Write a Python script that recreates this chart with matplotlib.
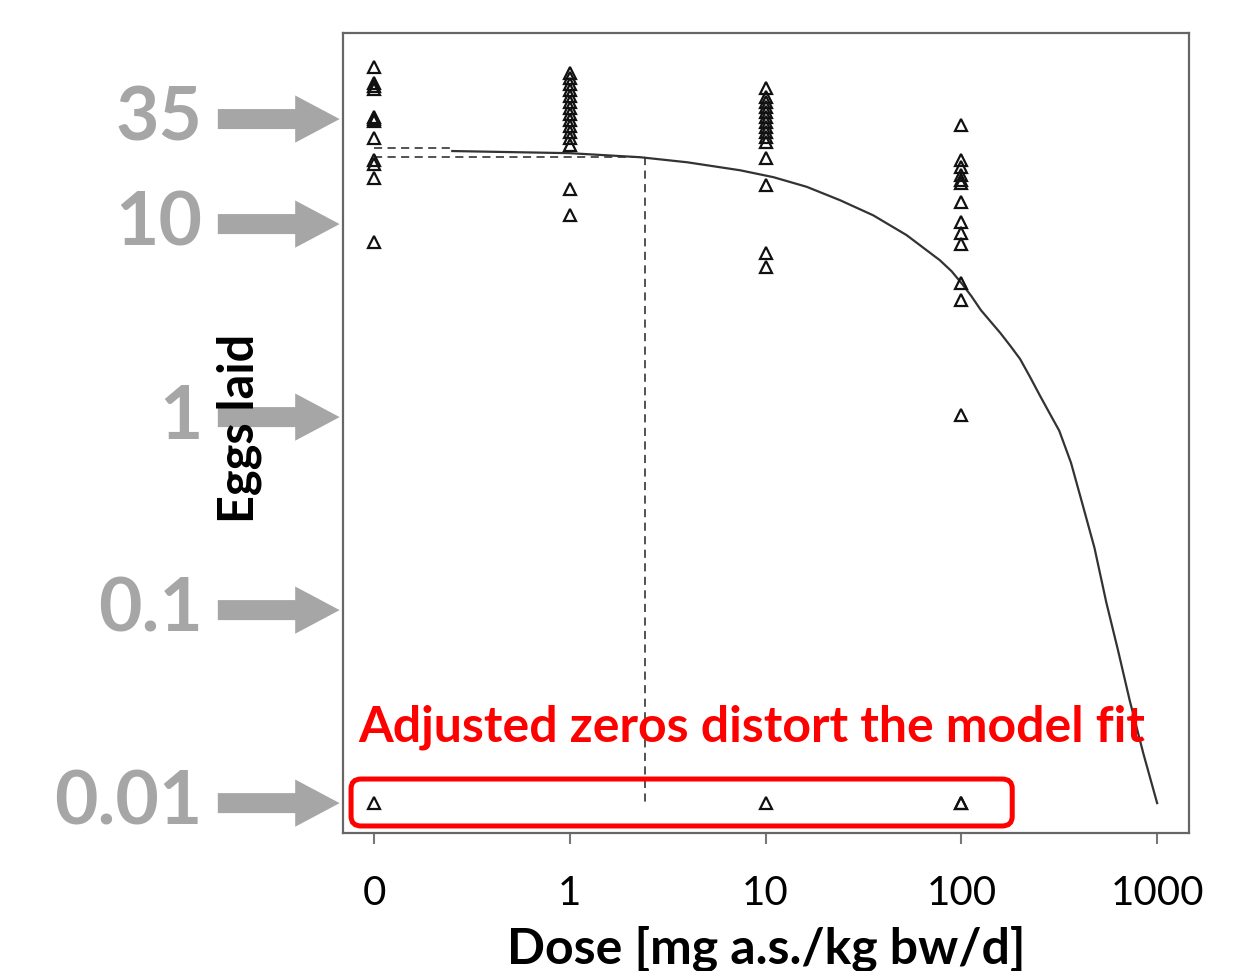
import matplotlib
matplotlib.use("Agg")
import matplotlib.pyplot as plt
from matplotlib.patches import FancyBboxPatch

plt.rcParams["font.family"] = ["Lato", "DejaVu Sans"]

# dose groups, drawn at equally spaced positions (log dose, 0 placed one step left of 1)
DOSE_LABELS = ["0", "1", "10", "100", "1000"]
DOSE_POS = [0, 1, 2, 3, 4]

# eggs laid per animal (zeros are plotted as 0.01)
eggs_d0 = [65, 54, 52, 50, 36, 35, 34, 28, 21.5, 20.5, 17.3, 8.1, 0.01]
eggs_d1 = [60.6, 57.0, 53.1, 49.4, 46.0, 42.8, 39.9, 37.2, 34.6, 32.2, 30.0, 27.9,
           25.6, 15.2, 11.1]
eggs_d10 = [50.7, 45.5, 42.8, 40.4, 38.0, 35.8, 33.7, 31.8, 30.0, 28.3, 26.6, 22.0,
            15.9, 7.1, 6.0, 0.01]
eggs_d100 = [32.6, 21.5, 19.7, 17.9, 16.9, 16.3, 13.0, 10.2, 9.0, 7.9, 4.95, 4.05,
             1.02, 0.01, 0.01]
eggs = [eggs_d0, eggs_d1, eggs_d10, eggs_d100]

# fitted dose-response curve
curve_pos = [0.40, 1.0, 1.36, 1.60, 1.87, 2.04, 2.21, 2.38, 2.55, 2.72, 2.89, 2.95, 3.0,
             3.05, 3.10, 3.15, 3.20, 3.25, 3.30, 3.35, 3.40, 3.45, 3.50, 3.56, 3.62,
             3.68, 3.74, 3.80, 3.86, 3.93, 4.0]
curve_val = [23.9, 23.3, 22.2, 20.9, 19.0, 17.5, 15.6, 13.3, 11.1, 8.77, 6.5, 5.7, 4.95,
             4.25, 3.58, 3.12, 2.72, 2.34, 2.0, 1.62, 1.3, 1.05, 0.85, 0.58, 0.35,
             0.21, 0.11, 0.062, 0.034, 0.018, 0.01]

# dashed reference lines (top level and ED10-like level)
top_level = 24.8
ed_level = 22.2
ed_pos = 1.385

# grey callout levels on the y axis
callout_vals = [35, 10, 1, 0.1, 0.01]
callout_text = ["35", "10", "1", "0.1", "0.01"]

GREY = "#A6A6A6"

fig = plt.figure(figsize=(12.46, 9.71), dpi=100)
ax = fig.add_axes([0.2753, 0.1421, 0.679, 0.8239])
ax.set_yscale("log")
ax.set_xlim(-0.158, 4.163)
ax.set_ylim(0.0070, 97.7)

for p, vals in zip(DOSE_POS, eggs):
    ax.plot([p] * len(vals), vals, linestyle="none", marker="^", markersize=9,
            markerfacecolor="none", markeredgecolor="#111111", markeredgewidth=1.6,
            zorder=4)

ax.plot(curve_pos, curve_val, color="#333333", lw=1.6, zorder=3)
dash = (0, (4.5, 3))
ax.plot([0, 0.40], [top_level, top_level], color="#444444", lw=1.3, ls=dash)
ax.plot([0, ed_pos], [ed_level, ed_level], color="#444444", lw=1.3, ls=dash)
ax.plot([ed_pos, ed_pos], [ed_level, 0.0095], color="#444444", lw=1.3, ls=dash)

for s in ax.spines.values():
    s.set_color("#666666")
    s.set_linewidth(1.6)

ax.set_xticks(DOSE_POS)
ax.set_xticklabels(DOSE_LABELS, fontsize=29)
ax.tick_params(axis="x", length=8, width=1.5, color="#777777", pad=22)
ax.set_yticks([])
ax.minorticks_off()
ax.set_xlabel("Dose [mg a.s./kg bw/d]", fontsize=36, fontweight="bold", labelpad=10)
ax.set_ylabel("Eggs laid", fontsize=35, fontweight="bold")
ax.yaxis.set_label_coords(-0.096, 0.506)

# grey arrows + numbers pointing at the log axis
for v, t in zip(callout_vals, callout_text):
    ax.annotate("", xy=(-0.004, v), xycoords=("axes fraction", "data"),
                xytext=(-0.148, v), textcoords=("axes fraction", "data"),
                arrowprops=dict(arrowstyle="simple,head_length=0.8,head_width=0.85,tail_width=0.36",
                                mutation_scale=40, color=GREY, lw=0, shrinkA=0, shrinkB=0),
                annotation_clip=False, zorder=1)
    ax.text(-0.166, v, t, transform=ax.get_yaxis_transform(), ha="right", va="center",
            fontsize=54, fontweight="bold", color=GREY, clip_on=False)

# red callout on the adjusted zeros
box = FancyBboxPatch((0.0095, 0.0088), 0.7815, 0.0587, transform=ax.transAxes,
                     boxstyle="round,pad=0,rounding_size=0.012", fill=False,
                     edgecolor="#FF0000", lw=3.6, zorder=5, clip_on=False)
ax.add_patch(box)
ax.text(0.018, 0.132, "Adjusted zeros distort the model fit", transform=ax.transAxes,
        ha="left", va="center", fontsize=36, fontweight="bold", color="#FF0000", zorder=6)

fig.savefig("out.png", dpi=100)
